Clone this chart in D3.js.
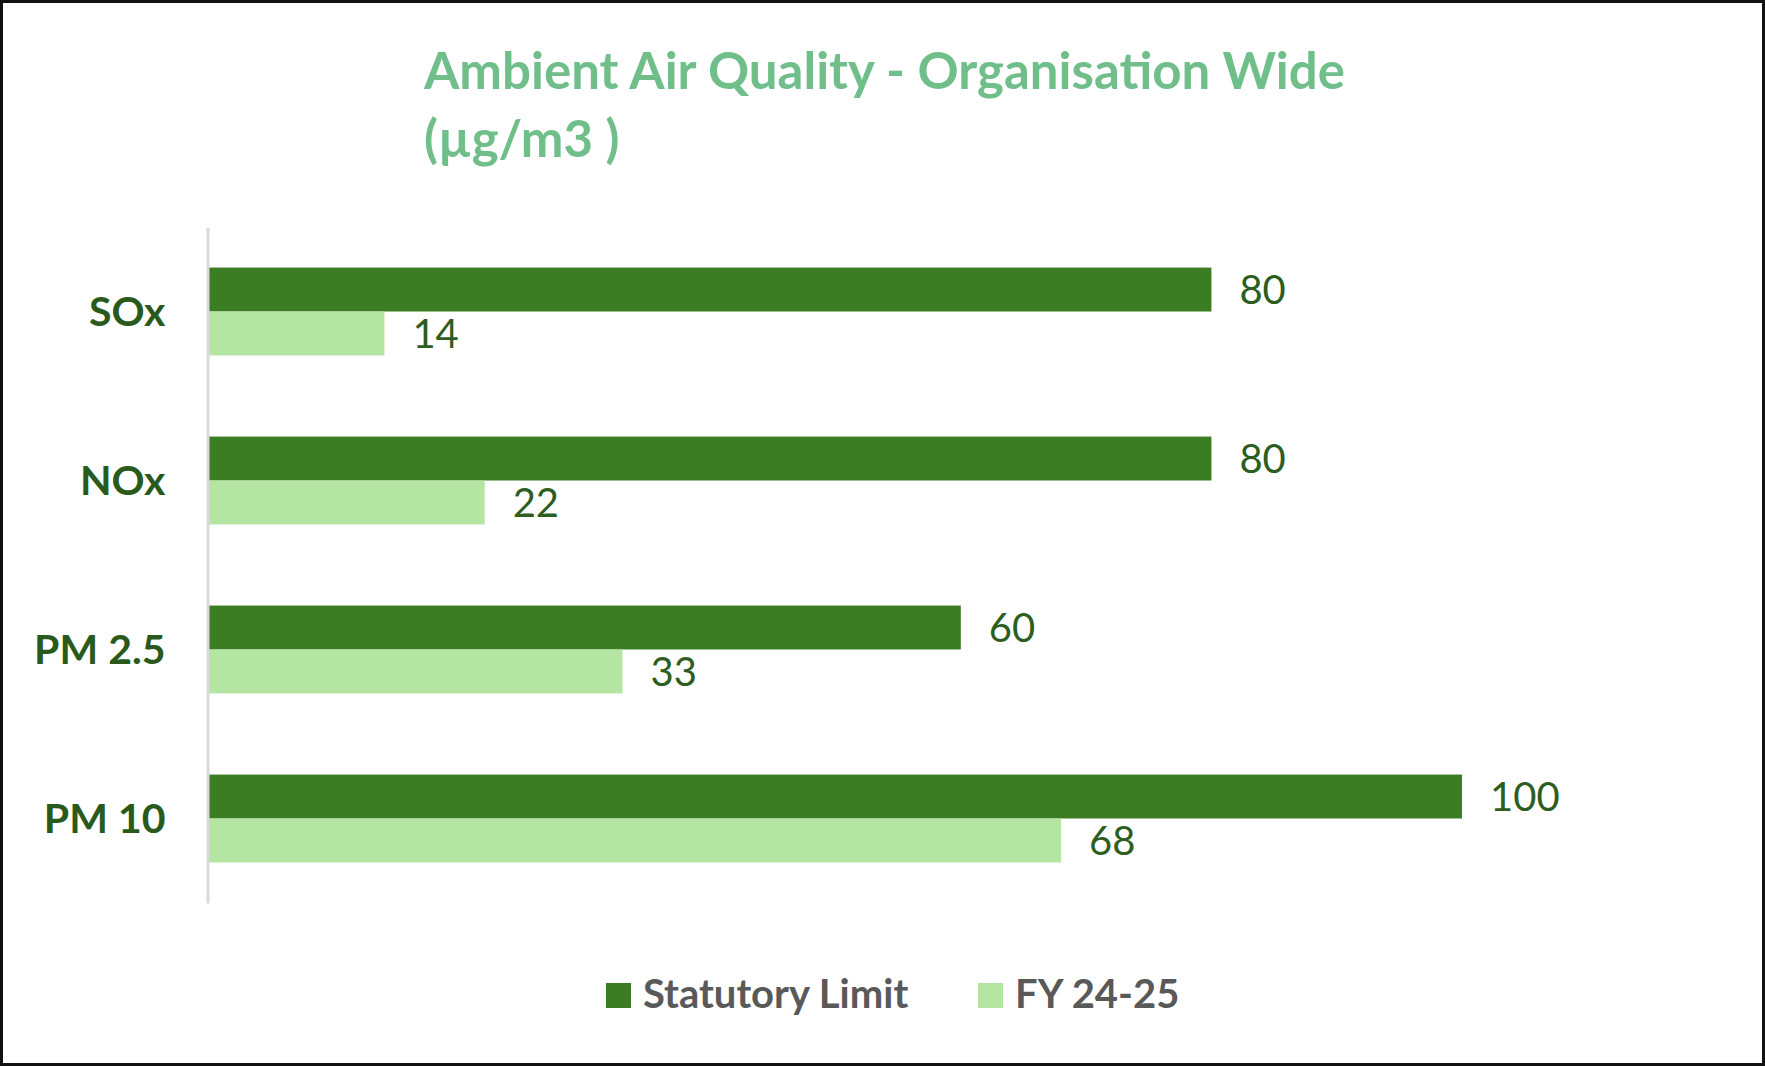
<!DOCTYPE html>
<html>
<head>
<meta charset="utf-8">
<script src="https://cdn.jsdelivr.net/npm/d3@7"></script>
<style>
  html, body { margin: 0; padding: 0; background: #fff; }
  svg { display: block; font-family: Lato, "Open Sans", sans-serif; }
</style>
</head>
<body>
<div id="chart"></div>
<script>
const categories = ["SOx", "NOx", "PM 2.5", "PM 10"];
const seriesNames = ["Statutory Limit", "FY 24-25"];
const statutoryLimit = [80, 80, 60, 100];
const fy2425 = [14, 22, 33, 68];
const titleLines = ["Ambient Air Quality - Organisation Wide", "(\u00b5g/m3 )"];

const W = 1765, H = 1066;
const colors = ["#3b7d23", "#b4e5a2"];

const svg = d3.select("#chart")
  .append("svg")
  .attr("width", W)
  .attr("height", H);

// frame
svg.append("rect")
  .attr("x", 1.5).attr("y", 1.5)
  .attr("width", W - 3).attr("height", H - 3)
  .attr("fill", "#fff")
  .attr("stroke", "#111")
  .attr("stroke-width", 3);

// title
svg.append("text")
  .attr("x", 424)
  .attr("fill", "#70bf8b")
  .attr("font-weight", "bold")
  .attr("font-size", 51)
  .selectAll("tspan")
  .data(titleLines)
  .enter()
  .append("tspan")
  .attr("x", 424)
  .attr("y", (d, i) => 89 + i * 68)
  .text(d => d);

const x = d3.scaleLinear()
  .domain([0, 100])
  .range([209, 1462]);

const y = d3.scaleBand()
  .domain(categories)
  .range([227, 903])
  .paddingInner(0.48)
  .paddingOuter(0.24);

const ySub = d3.scaleBand()
  .domain(seriesNames)
  .range([0, y.bandwidth()]);

const rows = categories.map((c, i) => ({
  cat: c,
  vals: [
    { s: seriesNames[0], v: statutoryLimit[i] },
    { s: seriesNames[1], v: fy2425[i] }
  ]
}));

const groups = svg.selectAll("g.cat")
  .data(rows)
  .enter()
  .append("g")
  .attr("class", "cat")
  .attr("transform", d => "translate(0," + y(d.cat) + ")");

groups.selectAll("rect")
  .data(d => d.vals)
  .enter()
  .append("rect")
  .attr("x", x(0))
  .attr("y", d => ySub(d.s))
  .attr("width", d => x(d.v) - x(0))
  .attr("height", ySub.bandwidth())
  .attr("fill", (d, i) => colors[i]);

groups.selectAll("text")
  .data(d => d.vals)
  .enter()
  .append("text")
  .attr("x", d => x(d.v) + 28)
  .attr("y", d => ySub(d.s) + ySub.bandwidth() / 2)
  .attr("dy", "0.37em")
  .attr("font-size", 40)
  .attr("fill", "#2d5d1f")
  .text(d => d.v);

// category axis
const yAxis = d3.axisLeft(y).tickSize(0).tickPadding(42);
const gy = svg.append("g")
  .attr("transform", "translate(207.5,0)")
  .call(yAxis);
gy.select(".domain")
  .attr("stroke", "#d9d9d9")
  .attr("stroke-width", 3);
gy.selectAll(".tick text")
  .attr("font-family", "Lato, sans-serif")
  .attr("font-size", 41)
  .attr("font-weight", "bold")
  .attr("fill", "#2a5a1b")
  .attr("dy", "0.35em");

// legend
const legendPos = [606, 978];
const legend = svg.selectAll("g.legend")
  .data(seriesNames)
  .enter()
  .append("g")
  .attr("class", "legend")
  .attr("transform", (d, i) => "translate(" + legendPos[i] + ",983)");
legend.append("rect")
  .attr("width", 25)
  .attr("height", 25)
  .attr("fill", (d, i) => colors[i]);
legend.append("text")
  .attr("x", 37)
  .attr("y", 25)
  .attr("font-size", 40)
  .attr("font-weight", "bold")
  .attr("fill", "#595959")
  .text(d => d);
</script>
</body>
</html>
